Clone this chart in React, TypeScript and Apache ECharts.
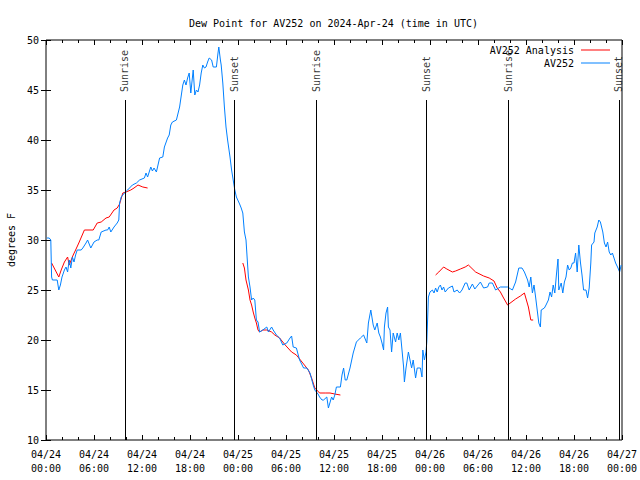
import React, { useEffect, useRef } from "react";
import * as echarts from "echarts";

// hours since 2024-04-24 00:00 UTC, dew point °F
const av252: [number, number][] = [
  [0.1,30.2],[0.4,30.2],[0.6,30.0],[0.7,26.3],[0.8,26.0],[1.4,26.0],[1.6,25.0],[1.8,25.5],[2.0,26.3],[2.3,27.0],[2.5,27.3],[2.7,26.8],[2.9,28.0],[3.1,27.2],[3.3,28.3],[3.5,27.8],[3.7,28.5],[3.9,29.0],[4.4,29.0],[4.6,29.2],[5.0,29.7],[5.2,30.0],[5.4,29.6],[5.6,29.2],[6.0,29.8],[6.4,30.0],[6.6,30.0],[6.9,30.8],[7.5,31.0],[7.7,31.0],[7.9,31.3],[8.1,30.8],[8.5,31.3],[8.9,31.7],[9.1,32.0],[9.2,33.7],[9.4,34.3],[9.8,34.7],[10.2,35.0],[10.8,35.5],[11.3,35.7],[11.7,36.0],[12.3,36.2],[12.5,36.7],[12.7,36.3],[13.1,37.3],[13.3,36.9],[13.5,37.2],[13.8,36.8],[14.2,38.2],[14.6,38.3],[14.8,39.3],[15.2,40.2],[15.4,40.5],[15.6,41.5],[15.8,41.8],[16.3,42.0],[16.7,43.3],[17.1,45.5],[17.3,46.0],[17.5,45.5],[17.7,46.2],[17.9,46.7],[18.1,44.7],[18.4,47.0],[18.6,44.5],[18.8,45.0],[19.0,44.8],[19.2,45.5],[19.4,46.7],[19.6,47.5],[19.8,47.2],[20.0,47.3],[20.2,47.8],[20.4,48.2],[20.7,48.0],[20.9,47.3],[21.3,47.3],[21.5,48.7],[21.6,49.3],[21.8,48.0],[21.9,47.5],[22.1,45.7],[22.3,43.3],[22.5,41.3],[22.7,40.0],[23.0,38.3],[23.2,37.0],[23.4,36.0],[23.6,35.0],[23.8,34.3],[24.2,33.6],[24.4,33.2],[24.6,32.7],[24.8,30.8],[25.0,30.0],[25.3,26.3],[25.5,25.3],[25.7,24.0],[25.9,24.2],[26.1,24.0],[26.3,22.0],[26.5,21.8],[26.7,20.8],[27.1,21.0],[27.6,21.3],[27.8,20.8],[28.2,21.3],[28.4,21.0],[28.8,20.5],[29.2,20.2],[29.6,19.5],[30.1,19.7],[30.5,20.2],[30.7,20.4],[30.9,19.3],[31.3,19.2],[31.7,18.0],[32.2,17.2],[32.6,17.2],[33.0,16.7],[33.4,15.5],[33.6,15.0],[34.0,14.6],[34.2,14.3],[34.5,14.0],[34.7,14.0],[35.1,14.3],[35.3,13.2],[35.7,14.3],[35.9,14.0],[36.1,14.5],[36.3,15.3],[36.8,15.3],[37.0,16.5],[37.2,17.2],[37.4,16.0],[37.6,16.0],[38.0,17.2],[38.4,18.7],[38.8,19.8],[39.3,20.2],[39.7,20.5],[40.1,19.7],[40.3,21.7],[40.6,23.0],[40.9,21.5],[41.1,21.0],[41.4,21.7],[41.6,20.7],[41.8,20.3],[42.0,19.7],[42.2,19.0],[42.3,21.3],[42.5,22.7],[42.7,23.3],[42.8,21.3],[43.0,21.0],[43.2,18.8],[43.4,20.7],[43.7,19.8],[43.9,20.7],[44.1,20.0],[44.3,20.7],[44.5,19.0],[44.7,17.3],[44.8,15.8],[45.0,17.2],[45.3,18.8],[45.5,18.0],[45.7,17.2],[45.9,18.0],[46.2,16.2],[46.4,17.2],[46.8,17.2],[47.0,16.3],[47.1,19.0],[47.3,18.0],[47.5,18.8],[47.6,19.8],[47.7,22.0],[47.8,24.3],[48.0,24.8],[48.3,25.0],[48.5,24.7],[48.7,25.2],[48.9,24.8],[49.1,25.3],[49.3,25.5],[49.5,25.0],[49.7,25.3],[49.9,24.8],[50.3,25.2],[50.8,25.4],[51.0,24.8],[51.4,25.0],[51.7,24.7],[52.0,25.0],[52.4,25.7],[52.6,25.7],[52.9,25.0],[53.3,25.6],[53.6,25.1],[53.9,25.4],[54.3,25.8],[54.7,25.2],[55.2,25.3],[55.4,25.7],[55.8,25.7],[56.2,25.0],[56.6,25.2],[56.8,25.3],[57.7,25.3],[58.1,25.1],[58.3,25.0],[58.7,25.8],[59.1,27.2],[59.5,27.2],[59.8,26.8],[60.2,26.0],[60.4,25.3],[60.6,26.3],[60.8,24.7],[61.0,25.5],[61.2,24.3],[61.4,23.0],[61.6,21.7],[61.8,21.3],[61.9,23.0],[62.3,23.2],[62.5,23.5],[62.8,24.0],[63.0,24.8],[63.2,24.3],[63.4,25.5],[63.6,24.7],[63.8,26.5],[64.0,28.1],[64.1,25.0],[64.4,25.7],[64.6,24.7],[64.8,25.8],[65.0,26.3],[65.2,27.5],[65.4,27.0],[65.6,27.2],[65.8,27.7],[66.0,27.7],[66.2,28.7],[66.4,26.8],[66.6,29.5],[66.8,27.8],[67.0,26.5],[67.2,25.0],[67.5,25.0],[67.7,24.2],[67.9,25.2],[68.1,27.7],[68.2,29.5],[68.5,29.8],[68.6,30.7],[68.9,31.3],[69.1,32.0],[69.3,31.8],[69.6,30.8],[69.8,29.7],[70.0,29.3],[70.2,29.8],[70.4,28.8],[70.6,28.5],[70.8,28.7],[71.0,28.2],[71.2,27.7],[71.5,27.2],[71.7,26.8],[71.9,27.5],
];

// analysis values; null marks a gap
const av252Analysis: [number, number | null][] = [
  [0.7,27.7],[1.6,26.3],[1.9,27.0],[2.3,27.8],[2.7,28.3],[2.9,27.5],[3.4,28.5],[3.7,29.0],[4.1,29.7],[4.8,31.0],[5.9,31.0],[6.4,31.7],[6.9,31.8],[7.5,32.2],[7.9,32.3],[8.5,33.0],[8.9,33.2],[9.2,33.6],[9.6,34.7],[10.0,34.8],[10.6,35.0],[11.0,35.2],[11.5,35.5],[12.1,35.3],[12.7,35.2],
  [18.0,null],
  [24.6,27.7],[24.8,27.2],[25.0,26.0],[25.3,25.0],[25.5,24.0],[25.7,23.5],[25.9,22.8],[26.1,22.2],[26.3,21.7],[26.5,21.0],[26.7,20.8],[27.1,21.0],[27.6,21.0],[28.2,20.8],[28.6,20.5],[29.2,20.2],[29.9,19.5],[30.7,18.8],[31.3,18.5],[32.0,17.8],[32.8,17.0],[33.2,16.2],[33.6,15.2],[34.2,14.7],[34.9,14.7],[35.5,14.7],[36.1,14.6],[36.8,14.5],
  [42.0,null],
  [48.7,26.5],[49.1,26.8],[49.7,27.3],[50.1,27.1],[50.8,26.8],[51.2,26.9],[51.8,27.1],[52.4,27.3],[52.8,27.5],[53.7,26.8],[54.7,26.4],[55.4,26.2],[56.0,25.9],[56.4,25.2],[56.8,24.8],[57.2,24.2],[57.7,23.5],[58.7,24.1],[59.3,24.4],[59.8,24.7],[60.3,23.3],[60.6,22.0],[60.9,22.0],
];

const sunTimes = [9.85, 23.5, 33.75, 47.5, 57.75, 71.6];
const sunLabels = ["Sunrise", "Sunset", "Sunrise", "Sunset", "Sunrise", "Sunset"];

const dateLabels = ["04/24","04/24","04/24","04/24","04/25","04/25","04/25","04/25","04/26","04/26","04/26","04/26","04/27"];
const timeLabels = ["00:00","06:00","12:00","18:00","00:00","06:00","12:00","18:00","00:00","06:00","12:00","18:00","00:00"];

const FONT = "DejaVu Sans Mono";

export default function App() {
  const ref = useRef<HTMLDivElement>(null);
  useEffect(() => {
    if (!ref.current) return;
    const chart = echarts.init(ref.current, undefined, { renderer: "svg" });
    const xBase = {
      type: "value",
      min: 0,
      max: 72,
      interval: 6,
      axisLine: { show: false },
      splitLine: { show: false },
      axisTick: { show: true, inside: true, length: 5, lineStyle: { color: "#000" } },
      minorTick: { show: true, splitNumber: 3, length: 3, lineStyle: { color: "#000" } },
    };
    const yBase = {
      type: "value",
      min: 10,
      max: 50,
      interval: 5,
      axisLine: { show: false },
      splitLine: { show: false },
      axisTick: { show: true, inside: true, length: 5, lineStyle: { color: "#000" } },
    };
    chart.setOption({
      animation: false,
      backgroundColor: "#fff",
      textStyle: { fontFamily: FONT },
      title: {
        text: "Dew Point for AV252 on 2024-Apr-24 (time in UTC)",
        left: 184,
        top: 13,
        textStyle: { fontFamily: FONT, fontSize: 10, fontWeight: "normal", color: "#000" },
      },
      legend: [
        {
          data: ["AV252 Analysis"],
          right: 30,
          top: 45,
          align: "right",
          icon: "rect",
          itemWidth: 29,
          itemHeight: 1,
          padding: 0,
          textStyle: { fontFamily: FONT, fontSize: 10, color: "#000", padding: [0, 2, 0, 0] },
        },
        {
          data: ["AV252"],
          right: 30,
          top: 58,
          align: "right",
          icon: "rect",
          itemWidth: 29,
          itemHeight: 1,
          padding: 0,
          textStyle: { fontFamily: FONT, fontSize: 10, color: "#000", padding: [0, 2, 0, 0] },
        },
      ],
      grid: {
        left: 46,
        right: 18,
        top: 40,
        bottom: 40,
        outerBoundsMode: "none",
        containLabel: false,
        show: true,
        borderColor: "#000",
        borderWidth: 1,
        backgroundColor: "transparent",
      },
      xAxis: [
        {
          ...xBase,
          position: "bottom",
          axisLabel: {
            fontFamily: FONT,
            fontSize: 10,
            color: "#000",
            margin: 7,
            lineHeight: 14,
            formatter: (v: number) => {
              const i = Math.round(v / 6);
              return dateLabels[i] + "\n" + timeLabels[i];
            },
          },
        },
        { ...xBase, position: "top", axisLabel: { show: false } },
      ],
      yAxis: [
        {
          ...yBase,
          position: "left",
          name: "degrees F",
          nameLocation: "middle",
          nameGap: 30,
          nameTextStyle: { fontFamily: FONT, fontSize: 10, color: "#000" },
          axisLabel: { fontFamily: FONT, fontSize: 10, color: "#000", margin: 7 },
        },
        { ...yBase, position: "right", axisLabel: { show: false } },
      ],
      series: [
        {
          name: "AV252 Analysis",
          type: "line",
          data: av252Analysis,
          showSymbol: false,
          connectNulls: false,
          color: "#ff0000",
          lineStyle: { width: 1, color: "#ff0000" },
          z: 3,
        },
        {
          name: "AV252",
          type: "line",
          data: av252,
          showSymbol: false,
          color: "#0080ff",
          lineStyle: { width: 1, color: "#0080ff" },
          z: 4,
          markLine: {
            silent: true,
            symbol: "none",
            label: { show: false },
            lineStyle: { color: "#000", width: 1, type: "solid" },
            data: sunTimes.map((t) => [{ coord: [t, 10] }, { coord: [t, 44] }]),
          },
        },
        {
          name: "sun",
          type: "scatter",
          clip: false,
          symbolSize: 0,
          silent: true,
          z: 5,
          data: sunTimes.map((t, i) => ({ value: [t, 44.8], name: sunLabels[i] })),
          label: {
            show: true,
            position: "inside",
            rotate: 90,
            align: "left",
            verticalAlign: "middle",
            formatter: "{b}",
            fontFamily: FONT,
            fontSize: 10,
            color: "#000",
          },
        },
      ],
    });
    return () => chart.dispose();
  }, []);
  return (
    <div
      ref={ref}
      style={{ position: "fixed", left: 0, top: 0, width: 640, height: 480, background: "#fff" }}
    />
  );
}
